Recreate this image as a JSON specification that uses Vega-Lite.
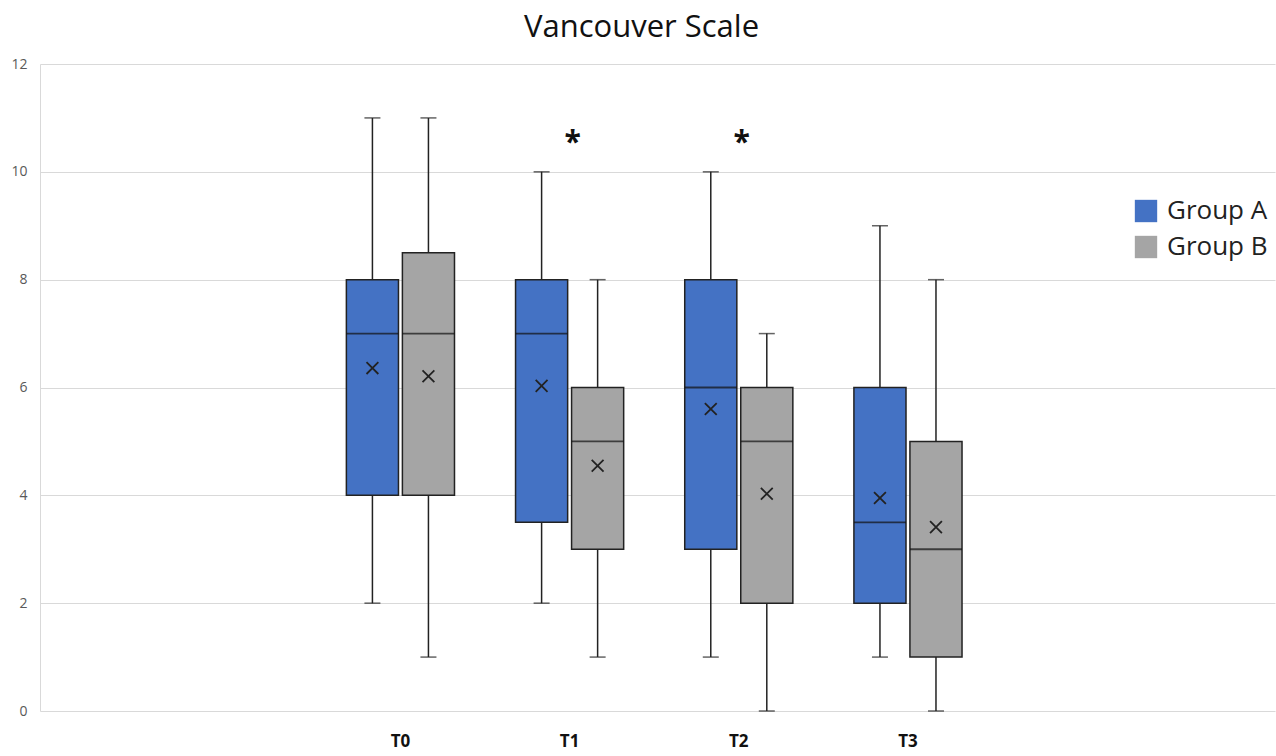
{
  "$schema": "https://vega.github.io/schema/vega-lite/v6.json",
  "width": 1235,
  "height": 647,
  "autosize": "none",
  "padding": {"left": 40, "top": 64, "right": 1, "bottom": 45},
  "background": "white",
  "title": {"text": "Vancouver Scale", "font": "Open Sans", "fontSize": 31, "fontWeight": "normal", "color": "#111", "anchor": "middle", "dx": -16, "offset": 13},
  "config": {
    "view": {"stroke": null},
    "font": "Open Sans",
    "axisX": {"title": null, "domain": false, "ticks": false, "labelAngle": 0, "labelFontSize": 17, "labelFontWeight": "bold", "labelColor": "#111", "labelPadding": 22, "grid": false},
    "axisY": {"title": null, "ticks": false, "domain": true, "domainColor": "#d9d9d9", "gridColor": "#d9d9d9", "labelColor": "#595959", "labelFontSize": 14, "labelPadding": 13, "format": "d"}
  },
  "datasets": {
    "boxes": [
      {"time": "T0", "group": "Group A", "min": 2, "q1": 4, "median": 7, "q3": 8, "max": 11, "mean": 6.36},
      {"time": "T0", "group": "Group B", "min": 1, "q1": 4, "median": 7, "q3": 8.5, "max": 11, "mean": 6.21},
      {"time": "T1", "group": "Group A", "min": 2, "q1": 3.5, "median": 7, "q3": 8, "max": 10, "mean": 6.03},
      {"time": "T1", "group": "Group B", "min": 1, "q1": 3, "median": 5, "q3": 6, "max": 8, "mean": 4.55},
      {"time": "T2", "group": "Group A", "min": 1, "q1": 3, "median": 6, "q3": 8, "max": 10, "mean": 5.6},
      {"time": "T2", "group": "Group B", "min": 0, "q1": 2, "median": 5, "q3": 6, "max": 7, "mean": 4.03},
      {"time": "T3", "group": "Group A", "min": 1, "q1": 2, "median": 3.5, "q3": 6, "max": 9, "mean": 3.95},
      {"time": "T3", "group": "Group B", "min": 0, "q1": 1, "median": 3, "q3": 5, "max": 8, "mean": 3.41}
    ],
    "stars": [
      {"time": "T1", "label": "*", "y": 10.6},
      {"time": "T2", "label": "*", "y": 10.6}
    ]
  },
  "encoding": {
    "x": {"field": "time", "type": "nominal",
      "scale": {"domain": [" ", "T0", "T1", "T2", "T3", "  "], "paddingInner": 0, "paddingOuter": 0.65, "align": 0.485},
      "axis": {"values": ["T0", "T1", "T2", "T3"]}}
  },
  "layer": [
    {
      "data": {"name": "boxes"},
      "mark": {"type": "rule", "color": "#222", "strokeWidth": 1.5},
      "encoding": {
        "xOffset": {"field": "group", "type": "nominal", "scale": {"domain": ["Group A", "Group B"], "paddingInner": 0.07, "paddingOuter": 0.545}},
        "y": {"field": "min", "type": "quantitative", "scale": {"domain": [0, 12], "nice": false},
          "axis": {"values": [0, 2, 4, 6, 8, 10, 12]}},
        "y2": {"field": "max"}
      }
    },
    {
      "data": {"name": "boxes"},
      "mark": {"type": "tick", "color": "#222", "thickness": 1.5, "size": 16},
      "encoding": {
        "xOffset": {"field": "group", "type": "nominal"},
        "y": {"field": "min", "type": "quantitative"}
      }
    },
    {
      "data": {"name": "boxes"},
      "mark": {"type": "tick", "color": "#222", "thickness": 1.5, "size": 16},
      "encoding": {
        "xOffset": {"field": "group", "type": "nominal"},
        "y": {"field": "max", "type": "quantitative"}
      }
    },
    {
      "data": {"name": "boxes"},
      "mark": {"type": "bar", "stroke": "#222", "strokeWidth": 1.5},
      "encoding": {
        "xOffset": {"field": "group", "type": "nominal"},
        "y": {"field": "q1", "type": "quantitative"},
        "y2": {"field": "q3"},
        "fill": {"field": "group", "type": "nominal",
          "scale": {"domain": ["Group A", "Group B"], "range": ["#4472C4", "#A5A5A5"]},
          "legend": {"title": null, "orient": "none", "legendX": 1093, "legendY": 134, "symbolType": "square", "symbolSize": 500, "symbolStrokeWidth": 0, "labelFontSize": 26, "labelColor": "#222", "labelFont": "Open Sans", "rowPadding": 10, "labelOffset": 8}}
      }
    },
    {
      "data": {"name": "boxes"},
      "mark": {"type": "tick", "color": "#111", "thickness": 1.8, "size": 52},
      "encoding": {
        "xOffset": {"field": "group", "type": "nominal"},
        "y": {"field": "median", "type": "quantitative"}
      }
    },
    {
      "data": {"name": "boxes"},
      "mark": {"type": "point", "shape": "M-1,-1L1,1M-1,1L1,-1", "filled": false, "stroke": "#222", "strokeWidth": 1.8, "size": 140, "opacity": 1},
      "encoding": {
        "xOffset": {"field": "group", "type": "nominal"},
        "y": {"field": "mean", "type": "quantitative"}
      }
    },
    {
      "data": {"name": "stars"},
      "mark": {"type": "text", "fontSize": 30, "fontWeight": "bold", "color": "#111", "baseline": "middle", "dy": 4, "dx": 3},
      "encoding": {
        "y": {"field": "y", "type": "quantitative"},
        "text": {"field": "label"}
      }
    }
  ]
}
